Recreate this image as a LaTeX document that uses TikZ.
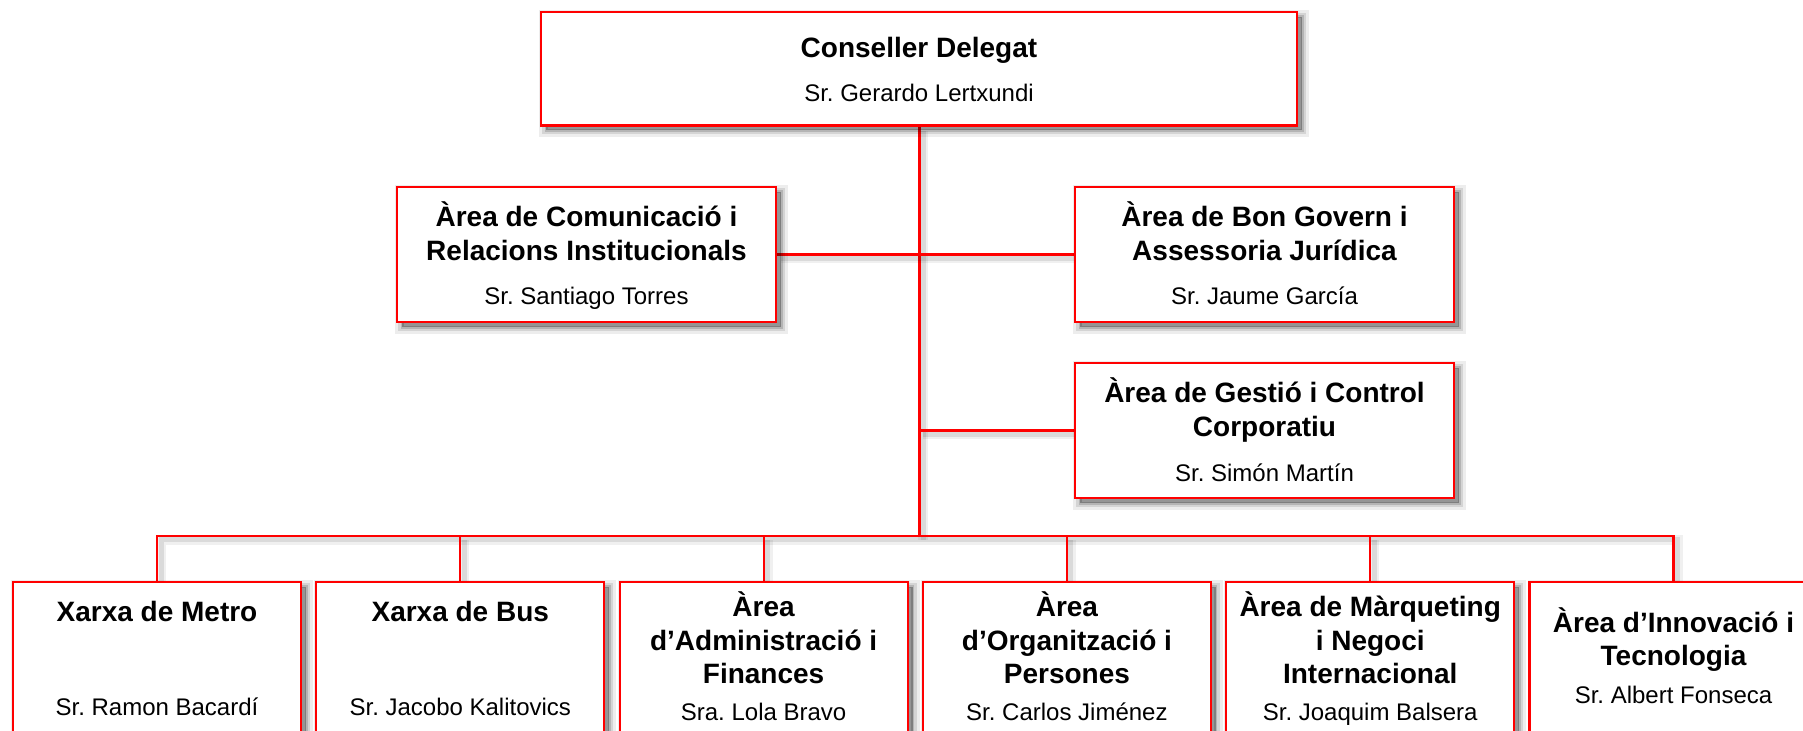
\documentclass[tikz,border=0pt]{standalone}
\usepackage{fontspec}
\setmainfont{Liberation Sans}
\frenchspacing
\pgfdeclarelayer{paper}
\pgfdeclarelayer{bg}
\pgfsetlayers{paper,bg,main}
\tikzset{
  shadowlayer/.style 2 args={preaction={fill=black, fill opacity=#1, draw=black, draw opacity=#1, line width=#2, transform canvas={shift={(2.5pt,-2.5pt)}}}},
  orgbox/.style 2 args={rectangle, draw=red, line width=1.1pt, fill=white, inner sep=0pt,
    minimum width=#1, minimum height=#2,
    shadowlayer={0.07}{7pt}, shadowlayer={0.1}{4pt}, shadowlayer={0.15}{1.5pt}},
  conn/.style={draw=red, line width=1.1pt,
    preaction={draw=black, draw opacity=0.06, line width=5pt, transform canvas={shift={(2pt,-2pt)}}},
    preaction={draw=black, draw opacity=0.09, line width=2.5pt, transform canvas={shift={(2pt,-2pt)}}}},
  trunk/.style={conn, line width=1.5pt},
  busline/.style={conn, line width=1.2pt},
  ttl/.style={anchor=base, inner sep=0pt, font=\bfseries\fontsize{14}{16.85}\selectfont},
  sub/.style={anchor=base, inner sep=0pt, font=\fontsize{12}{14}\selectfont},
}
\begin{document}
\begin{tikzpicture}[x=0.5pt,y=-0.5pt]
\begin{pgfonlayer}{paper}
  \fill[white] (0,0) rectangle (1803,731);
\end{pgfonlayer}
\useasboundingbox (0,0) rectangle (1803,731);

% boxes
\node[orgbox={378pt}{56.75pt}] (top) at (919,68.75) {};
\node[orgbox={189.5pt}{67.8pt}] (com) at (586.5,254.5) {};
\node[orgbox={189.5pt}{67.8pt}] (bon) at (1264.5,254.5) {};
\node[orgbox={189.5pt}{67.8pt}] (ges) at (1264.5,430.5) {};
\node[orgbox={144pt}{98.5pt}] (b1) at (157,680.2) {};
\node[orgbox={144pt}{98.5pt}] (b2) at (460.3,680.2) {};
\node[orgbox={144pt}{98.5pt}] (b3) at (763.6,680.2) {};
\node[orgbox={144pt}{98.5pt}] (b4) at (1066.9,680.2) {};
\node[orgbox={144pt}{98.5pt}] (b5) at (1370.2,680.2) {};
\node[orgbox={144pt}{98.5pt}] (b6) at (1673.5,680.2) {};

% connectors
\begin{pgfonlayer}{bg}
  \coordinate (hub) at (919,535.7);
  \draw[trunk] (top.south) -- (hub);
  \draw[conn] (com.east) -- (com.east -| top.south);
  \draw[conn] (bon.west) -- (bon.west -| top.south);
  \draw[conn] (ges.west) -- (ges.west -| top.south);
  \draw[busline] (b1.north) |- (hub) -| (b6.north);
  \foreach \n in {b2,b3,b4,b5} \draw[conn] (\n.north) -- (\n.north |- hub);
\end{pgfonlayer}

% texts
\node[ttl] (topt) at (919,58) {Conseller Delegat};
\node[sub] (tops) at (919,102) {Sr. Gerardo Lertxundi};

\node[ttl] (comt1) at (586.5,227) {Àrea de Comunicació i};
\node[ttl] (comt2) at (586.5,260.5) {Relacions Institucionals};
\node[sub] (coms) at (586.5,305) {Sr. Santiago Torres};

\node[ttl] (bont1) at (1264.5,227) {Àrea de Bon Govern i};
\node[ttl] (bont2) at (1264.5,260.5) {Assessoria Jurídica};
\node[sub] (bons) at (1264.5,305) {Sr. Jaume García};

\node[ttl] (gest1) at (1264.5,403) {Àrea de Gestió i Control};
\node[ttl] (gest2) at (1264.5,436.5) {Corporatiu};
\node[sub] (gess) at (1264.5,481) {Sr. Simón Martín};

\node[ttl] (b1t) at (157,621.7) {Xarxa de Metro};
\node[sub] (b1s) at (157,715) {Sr. Ramon Bacardí};

\node[ttl] (b2t) at (460.3,621.7) {Xarxa de Bus};
\node[sub] (b2s) at (460.3,715) {Sr. Jacobo Kalitovics};

\node[ttl] (b3t1) at (763.6,616) {Àrea};
\node[ttl] (b3t2) at (763.6,650) {d’Administració i};
\node[ttl] (b3t3) at (763.6,683) {Finances};
\node[sub] (b3s) at (763.6,720.7) {Sra. Lola Bravo};

\node[ttl] (b4t1) at (1066.9,616) {Àrea};
\node[ttl] (b4t2) at (1066.9,650) {d’Organització i};
\node[ttl] (b4t3) at (1066.9,683) {Persones};
\node[sub] (b4s) at (1066.9,720.7) {Sr. Carlos Jiménez};

\node[ttl] (b5t1) at (1370.2,616) {Àrea de Màrqueting};
\node[ttl] (b5t2) at (1370.2,650) {i Negoci};
\node[ttl] (b5t3) at (1370.2,683) {Internacional};
\node[sub] (b5s) at (1370.2,720.7) {Sr. Joaquim Balsera};

\node[ttl] (b6t1) at (1673.5,632.7) {Àrea d’Innovació i};
\node[ttl] (b6t2) at (1673.5,665) {Tecnologia};
\node[sub] (b6s) at (1673.5,703.3) {Sr. Albert Fonseca};
\end{tikzpicture}
\end{document}
